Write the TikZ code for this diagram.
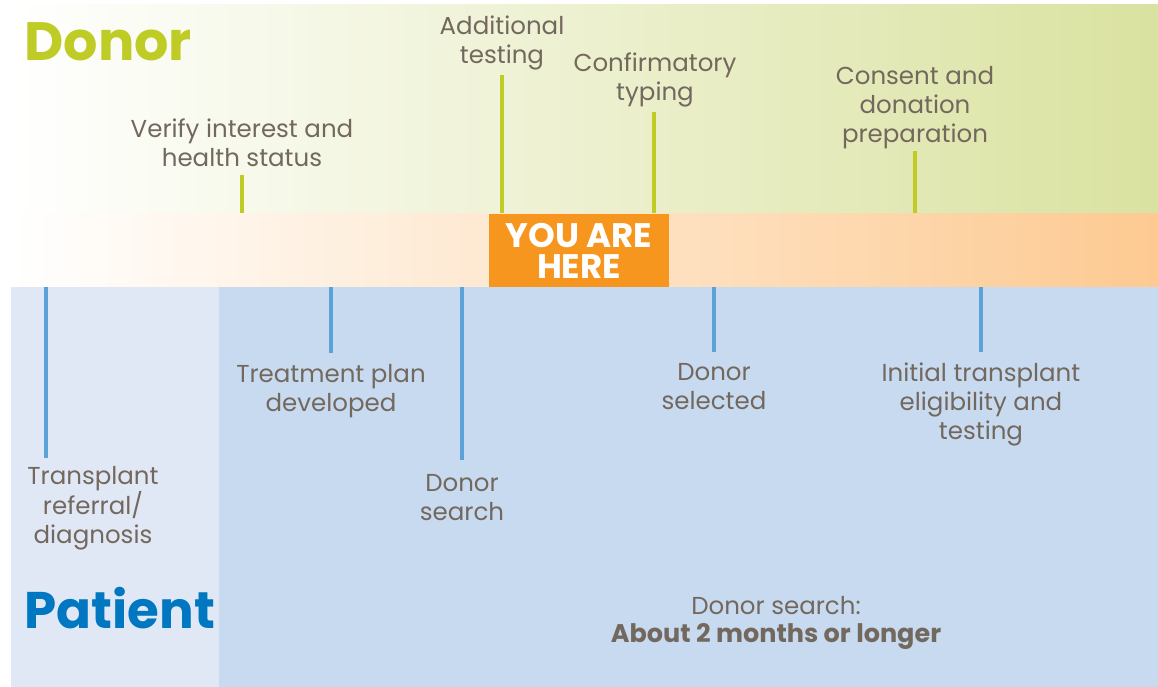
\documentclass[tikz,border=0pt]{standalone}
\usepackage{fontspec}
\setmainfont{Poppins}
\usepackage{tikz}

\definecolor{donorgreen}{HTML}{BFCC26}
\definecolor{patientblue}{HTML}{0077C0}
\definecolor{stepblue}{HTML}{5AA2D8}
\definecolor{textgray}{HTML}{73685E}
\definecolor{herebox}{HTML}{F7961E}
\definecolor{greenend}{HTML}{DAE2A0}
\definecolor{orangeend}{HTML}{FDCA92}
\definecolor{paleblue}{HTML}{E1E8F5}
\definecolor{midblue}{HTML}{C7DAEF}

\tikzset{
  lbl/.style={text=textgray, align=center, font=\fontsize{24.5}{29}\selectfont},
  donorline/.style={donorgreen, line width=4pt},
  patientline/.style={stepblue, line width=4.5pt}
}

\begin{document}
\begin{tikzpicture}[x=1pt,y=-1pt]
\useasboundingbox (0,0) rectangle (1158,687);

%% bands
\shade[left color=white, right color=greenend] (10,5) rectangle (1158,213);    %% donor band
\shade[left color=white, right color=orangeend] (10,213) rectangle (1158,287); %% timeline band
\fill[paleblue] (11,287) rectangle (219,687);    %% patient left
\fill[midblue] (219,287) rectangle (1158,687);   %% patient search

%% titles
\node[text=donorgreen, font=\fontsize{54}{54}\selectfont\bfseries, anchor=west] (donor) at (21,42) {Donor};
\node[text=patientblue, font=\fontsize{51.5}{52}\selectfont\bfseries, anchor=west] (patient) at (21,608) {Patient};

%% you are here
\node[fill=herebox, text=white, minimum width=180pt, minimum height=73pt, inner sep=0pt,
      align=center, font=\fontsize{34}{31}\selectfont\bfseries] (here) at (579,250.5) {YOU ARE\\HERE};

%% donor steps
\node[lbl] (verify) at (242,143) {Verify interest and\\health status};
\node[lbl] (addtest) at (502,43) {Additional\\testing};
\node[lbl] (confirm) at (655,80) {Confirmatory\\typing};
\node[lbl] (consent) at (915,108) {Consent and\\donation\\preparation};

%% patient steps
\node[lbl] (referral) at (93,508) {Transplant\\referral/\\diagnosis};
\node[lbl] (treatment) at (331,391) {Treatment plan\\developed};
\node[lbl] (search) at (462,498) {Donor\\search};
\node[lbl] (selected) at (714,387) {Donor\\selected};
\node[lbl] (initial) at (981,404) {Initial transplant\\eligibility and\\testing};

%% duration
\node[lbl, font=\fontsize{24.5}{28}\selectfont] (duration) at (776,623) {Donor search:\\\fontsize{25.5}{28}\selectfont\textbf{About 2 months or longer}};

%% line ends
\coordinate (verifyA) at (242,175);   \coordinate (verifyB) at (242,213);
\coordinate (addA) at (502,75);       \coordinate (addB) at (502,213);
\coordinate (confA) at (654,112);     \coordinate (confB) at (654,213);
\coordinate (consA) at (915,151);     \coordinate (consB) at (915,213);
\coordinate (refA) at (46,287);       \coordinate (refB) at (46,458);
\coordinate (treatA) at (331,287);    \coordinate (treatB) at (331,353);
\coordinate (searchA) at (462,287);   \coordinate (searchB) at (462,460);
\coordinate (selA) at (714,287);      \coordinate (selB) at (714,352);
\coordinate (initA) at (981,287);     \coordinate (initB) at (981,352);

%% ticks
\draw[donorline] (verifyA) -- (verifyB);     %% verify
\draw[donorline] (addA) -- (addB);           %% additional testing
\draw[donorline] (confA) -- (confB);         %% confirmatory
\draw[donorline] (consA) -- (consB);         %% consent
\draw[patientline] (refA) -- (refB);         %% referral
\draw[patientline] (treatA) -- (treatB);     %% treatment
\draw[patientline] (searchA) -- (searchB);   %% search
\draw[patientline] (selA) -- (selB);         %% selected
\draw[patientline] (initA) -- (initB);       %% initial
\end{tikzpicture}
\end{document}
